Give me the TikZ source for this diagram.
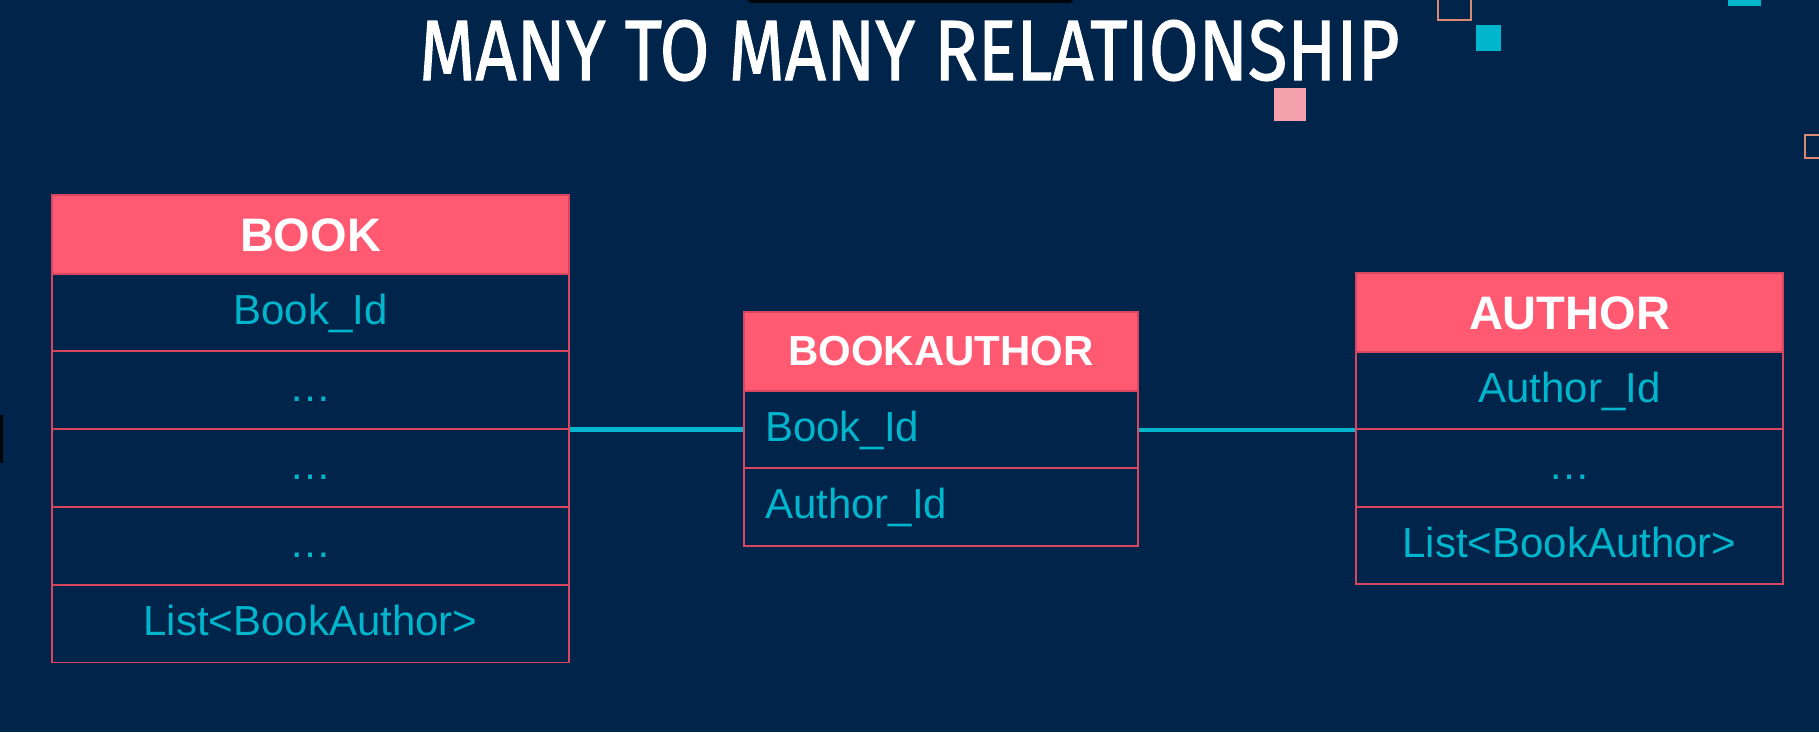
\documentclass[tikz,border=0pt]{standalone}
\usepackage{fontspec}
\setmainfont{Liberation Sans}
\newfontfamily\titlefont{Fira Sans}[FakeBold=1.3]
\usepackage{graphicx}
\definecolor{bg}{HTML}{01244A}
\definecolor{hdr}{HTML}{FF5A72}
\definecolor{brd}{HTML}{D8465F}
\definecolor{cy}{HTML}{00B5CC}
\definecolor{pinksq}{HTML}{F4A1AD}
\definecolor{salmon}{HTML}{D98A70}
\begin{document}
\begin{tikzpicture}[x=1pt,y=-1pt,
  hdrbox/.style={draw=brd, line width=1.6pt, fill=hdr, text=white,
    font=\fontsize{47}{50}\selectfont\bfseries, inner sep=0pt,
    text height=34pt, text depth=0pt},
  fieldbox/.style={draw=brd, line width=1.6pt, fill=bg, text=cy,
    font=\fontsize{42}{46}\selectfont, inner sep=0pt,
    text height=30pt, text depth=7pt},
  leftfield/.style={fieldbox, text width=352pt, inner xsep=21pt, align=left},
  link/.style={draw=cy, line width=4.5pt},
  deco/.style={line width=1.6pt}]
\useasboundingbox (0,0) rectangle (1819,732);
\clip (0,0) rectangle (1819,732);
\fill[bg] (0,0) rectangle (1819,732);

% decorations
\fill[black!85!bg, rounded corners=3pt] (748,-8) rectangle (1073,3);
\fill[black!85!bg] (0,415) rectangle (2.5,463);
\draw[deco, salmon] (1438,-12) rectangle (1471,20);
\fill[cy] (1476,25) rectangle (1501,51);
\fill[pinksq] (1274,88) rectangle (1306,121);
\fill[cy] (1728,-10) rectangle (1761,6);
\draw[deco, salmon] (1805,135) rectangle (1840,158);

% title
\node[anchor=base west, inner sep=0pt, text=white] (title) at (419,80)
  {\resizebox{980pt}{60pt}{\titlefont MANY TO MANY RELATIONSHIP}};

% BOOK
\node[fieldbox, minimum width=517pt, minimum height=77.6pt] (book1) at (310.5,312.5) {Book\_Id};
\node[fieldbox, minimum width=517pt, minimum height=77.6pt] (book2) at (310.5,390) {…};
\node[fieldbox, minimum width=517pt, minimum height=77.6pt] (book3) at (310.5,468) {…};
\node[fieldbox, minimum width=517pt, minimum height=77.6pt] (book4) at (310.5,546) {…};
\node[fieldbox, minimum width=517pt, minimum height=77.6pt] (book5) at (310.5,623.5) {List<BookAuthor>};
\node[hdrbox, minimum width=517pt, minimum height=79pt] (bookh) at (310.5,234.5) {BOOK};

% BOOKAUTHOR
\node[leftfield, minimum height=77.5pt] (ba1) at (941,429.5) {Book\_Id};
\node[leftfield, minimum height=77.5pt] (ba2) at (941,507) {Author\_Id};
\node[hdrbox, font=\fontsize{42}{46}\selectfont\bfseries, text height=30pt, text depth=3pt,
  minimum width=394pt, minimum height=79pt] (bah) at (941,351.5) {BOOKAUTHOR};

% AUTHOR
\node[fieldbox, minimum width=427pt, minimum height=77.3pt] (au1) at (1569.5,390.5) {Author\_Id};
\node[fieldbox, minimum width=427pt, minimum height=77.3pt] (au2) at (1569.5,468) {…};
\node[fieldbox, minimum width=427pt, minimum height=77.3pt] (au3) at (1569.5,545.5) {List<BookAuthor>};
\node[hdrbox, minimum width=427pt, minimum height=79pt] (auh) at (1569.5,312.5) {AUTHOR};

% connectors
\draw[link] (book2.south east) -- (book2.south east -| ba1.west);
\draw[link] (ba1.east |- au1.south west) -- (au1.south west);
\end{tikzpicture}
\end{document}
